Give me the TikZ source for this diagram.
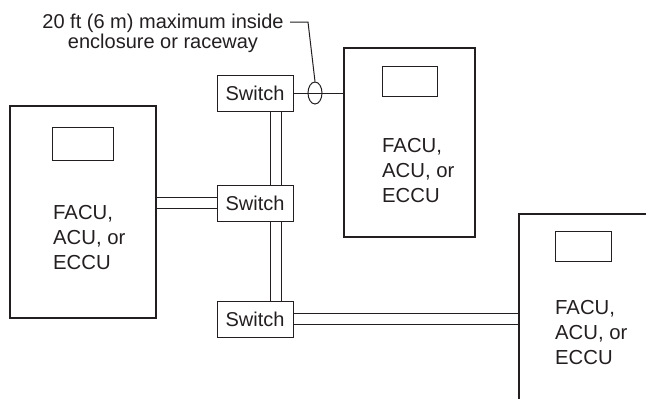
\documentclass[tikz,border=0pt]{standalone}
\usepackage{fontspec}
\setmainfont{Liberation Sans}
\usetikzlibrary{shapes.geometric,backgrounds}
\definecolor{ink}{HTML}{231F20}

\begin{document}
\begin{tikzpicture}[x=1pt,y=-1pt,
  every node/.style={inner sep=0pt,text=ink},
  panel/.style={draw=ink,line width=2pt},
  screen/.style={draw=ink,line width=0.9pt},
  switchbox/.style={draw=ink,line width=1pt,minimum width=76pt,minimum height=36pt,
    font=\fontsize{20}{20}\selectfont},
  unit/.style={align=left,anchor=north west,font=\fontsize{20.3}{25}\selectfont},
  wire/.style={draw=ink,line width=1pt},
  pair/.style={draw=ink,line width=1pt,double=white,double distance=10pt}]
\useasboundingbox (0,0) rectangle (646,399);
\clip (0,0) rectangle (646,399);

% control units
\node[panel,minimum width=146pt,minimum height=212pt] (lpanel) at (83,212) {};
\node[panel,minimum width=131pt,minimum height=189pt] (mpanel) at (409.5,142.5) {};
\node[panel,anchor=north west,minimum width=180pt,minimum height=240pt] (rpanel) at (518,213) {};

\node[screen,minimum width=61pt,minimum height=33pt] (lscreen) at (82.5,143.5) {};
\node[screen,minimum width=55pt,minimum height=30pt] (mscreen) at (409.5,81) {};
\node[screen,minimum width=56pt,minimum height=30pt] (rscreen) at (583,246) {};

\node[unit] (ltext) at (53,205) {FACU,\\ACU, or\\ECCU};
\node[unit] (mtext) at (382,138) {FACU,\\ACU, or\\ECCU};
\node[unit] (rtext) at (555,300) {FACU,\\ACU, or\\ECCU};

% switches
\node[switchbox] (sw1) at (255,93) {Switch};
\node[switchbox] (sw2) at (255,203) {Switch};
\node[switchbox] (sw3) at (255,319) {Switch};

% sleeve and note
\node[draw=ink,line width=1pt,ellipse,minimum width=14pt,minimum height=22pt] (sleeve) at (315,93) {};
\node[align=center,anchor=north,font=\fontsize{20}{20}\selectfont] (note) at (163,14)
  {20 ft (6 m) maximum inside\\enclosure or raceway};
\coordinate (notetip) at (290,22);
\coordinate (bend) at (308,22);
\draw[wire] (notetip) -- (bend) -- (sleeve.north);

% cabling
\begin{scope}[on background layer]
\draw[wire] (sw1.east) -- (sw1.east -| mpanel.west);
\draw[pair] (sw2.west) -- (sw2.west -| lpanel.east);
\draw[pair] ([xshift=21pt]sw1.south) -- ([xshift=21pt]sw2.north);
\draw[pair] ([xshift=21pt]sw2.south) -- ([xshift=21pt]sw3.north);
\draw[pair] (sw3.east) -- (sw3.east -| rpanel.west);
\end{scope}
\end{tikzpicture}
\end{document}
